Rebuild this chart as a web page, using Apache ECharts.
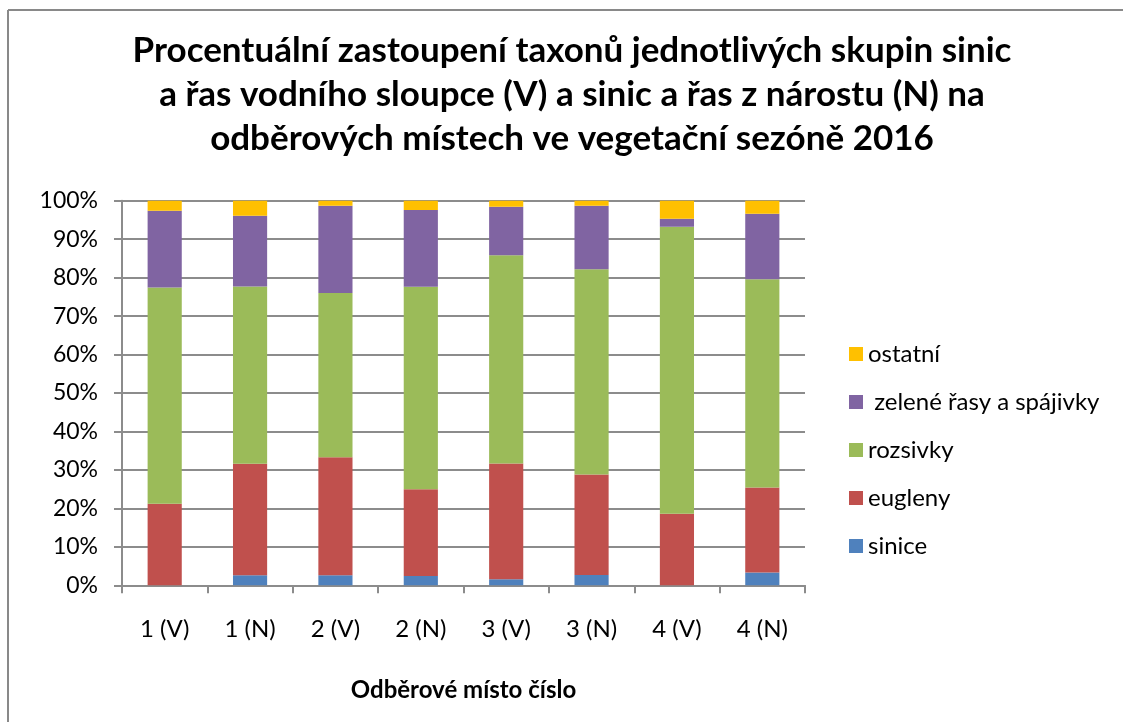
<!DOCTYPE html>
<html>
<head>
<meta charset="utf-8">
<script src="https://cdn.jsdelivr.net/npm/echarts@6/dist/echarts.min.js"></script>
<style>
html,body{margin:0;padding:0;background:#fff;}
#chart{width:1123px;height:722px;}
</style>
</head>
<body>
<div id="chart"></div>
<script>
const categories = ['1 (V)', '1 (N)', '2 (V)', '2 (N)', '3 (V)', '3 (N)', '4 (V)', '4 (N)'];
const seriesNames = ['sinice', 'eugleny', 'rozsivky', ' zelené řasy a spájivky', 'ostatní'];
const sinice = [0, 2.6, 2.6, 2.4, 1.6, 2.7, 0, 3.3];
const eugleny = [21.2, 29.0, 30.7, 22.6, 30.1, 26.1, 18.6, 22.1];
const rozsivky = [56.2, 46.1, 42.7, 52.6, 54.1, 53.4, 74.6, 54.2];
const zelene = [20.0, 18.4, 22.7, 20.0, 12.6, 16.5, 2.1, 17.0];
const ostatni = [2.6, 3.9, 1.3, 2.4, 1.6, 1.3, 4.7, 3.4];
const colors = ['#4F81BD', '#C0504D', '#9BBB59', '#8064A2', '#FFC000'];
const titleText = 'Procentuální zastoupení taxonů jednotlivých skupin sinic\na řas vodního sloupce (V) a sinic a řas z nárostu (N) na\nodběrových místech ve vegetační sezóně 2016';
const xAxisTitle = 'Odběrové místo číslo';

const values = [sinice, eugleny, rozsivky, zelene, ostatni];
const FONT = 'Lato';

const chart = echarts.init(document.getElementById('chart'), null, {renderer: 'canvas'});
chart.setOption({
  animation: false,
  backgroundColor: '#fff',
  graphic: [
    {type: 'line', shape: {x1: 8, y1: 10, x2: 1130, y2: 10}, style: {stroke: '#898989', lineWidth: 2}, silent: true},
    {type: 'line', shape: {x1: 8, y1: 10, x2: 8, y2: 730}, style: {stroke: '#898989', lineWidth: 2}, silent: true}
  ],
  title: {
    text: titleText,
    left: 572,
    textAlign: 'center',
    top: 29,
    padding: 0,
    textStyle: {fontFamily: FONT, fontWeight: 'bold', fontSize: 35, lineHeight: 44, color: '#000'}
  },
  legend: {
    orient: 'vertical',
    left: 849,
    top: 342,
    padding: 0,
    itemWidth: 14,
    itemHeight: 14,
    itemGap: 24,
    data: seriesNames.slice().reverse(),
    textStyle: {fontFamily: FONT, fontSize: 24, lineHeight: 24, color: '#000'},
    icon: 'rect'
  },
  grid: {left: 122, right: 318, top: 200.7, bottom: 136.7, containLabel: false},
  xAxis: {
    type: 'category',
    data: categories,
    name: xAxisTitle,
    nameLocation: 'middle',
    nameGap: 93,
    nameTextStyle: {fontFamily: FONT, fontWeight: 'bold', fontSize: 24, color: '#000'},
    axisLine: {lineStyle: {color: '#8c8c8c', width: 2}},
    axisTick: {show: true, length: 8, lineStyle: {color: '#8c8c8c', width: 2}},
    axisLabel: {fontFamily: FONT, fontSize: 24, color: '#000', margin: 32}
  },
  yAxis: {
    type: 'value',
    min: 0,
    max: 100,
    interval: 10,
    axisLine: {show: true, lineStyle: {color: '#8c8c8c', width: 2}},
    axisTick: {show: true, length: 8, lineStyle: {color: '#8c8c8c', width: 2}},
    axisLabel: {fontFamily: FONT, fontSize: 23, color: '#000', margin: 24, formatter: '{value}%'},
    splitLine: {show: true, lineStyle: {color: '#8c8c8c', width: 2}}
  },
  series: values.map((v, i) => ({
    name: seriesNames[i],
    type: 'bar',
    stack: 'total',
    barWidth: '40%',
    data: v,
    itemStyle: {color: colors[i]}
  }))
});
</script>
</body>
</html>
